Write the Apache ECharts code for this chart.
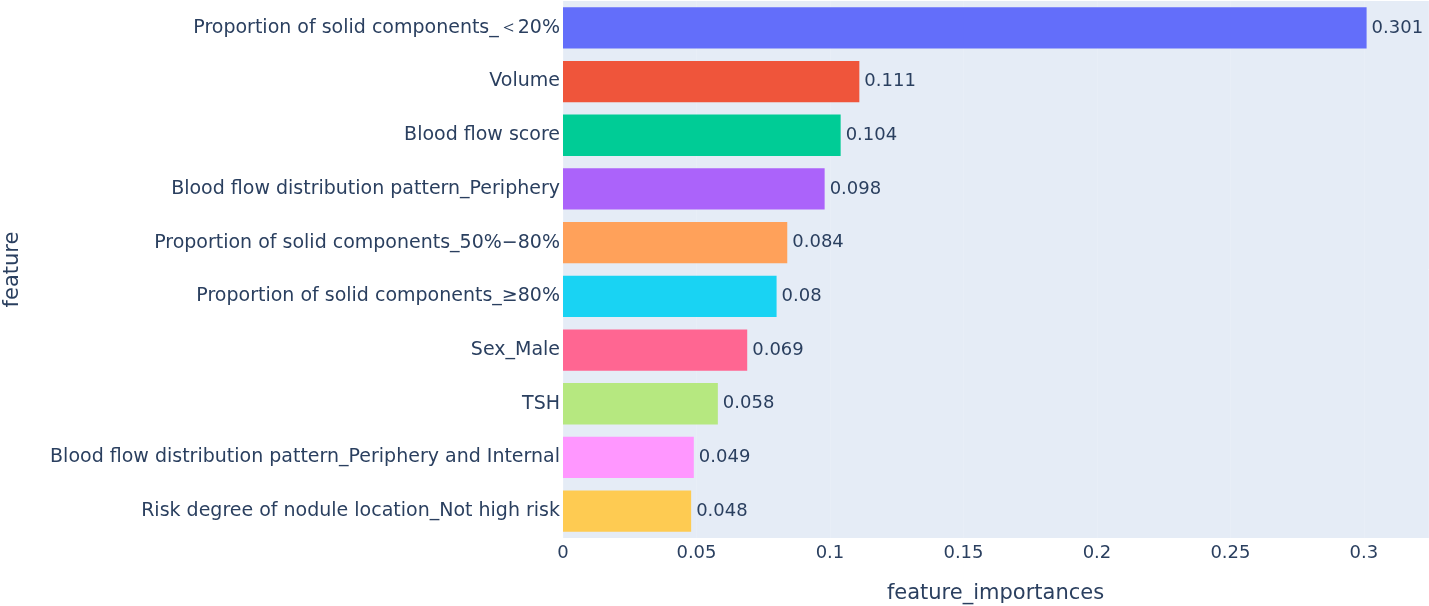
<!DOCTYPE html>
<html>
<head>
<meta charset="utf-8">
<script src="https://cdn.jsdelivr.net/npm/echarts@6/dist/echarts.min.js"></script>
<style>
  html, body { margin: 0; padding: 0; background: #fff; }
  #main { width: 1429px; height: 606px; }
</style>
</head>
<body>
<div id="main"></div>
<script>
// features, top to bottom as in the picture
const features = [
  'Proportion of solid components_\uFF1C20%',
  'Volume',
  'Blood flow score',
  'Blood flow distribution pattern_Periphery',
  'Proportion of solid components_50%\u221280%',
  'Proportion of solid components_\u226580%',
  'Sex_Male',
  'TSH',
  'Blood flow distribution pattern_Periphery and Internal',
  'Risk degree of nodule location_Not high risk'
];
const importances = [0.301, 0.111, 0.104, 0.098, 0.084, 0.08, 0.069, 0.058, 0.049, 0.048];
const barColors = ['#636EFA', '#EF553B', '#00CC96', '#AB63FA', '#FFA15A',
                   '#19D3F3', '#FF6692', '#B6E880', '#FF97FF', '#FECB52'];

const chart = echarts.init(document.getElementById('main'));
const font = 'DejaVu Sans';
const ink = '#2a3f5f';

chart.setOption({
  backgroundColor: '#fff',
  animation: false,
  grid: {
    left: 563, right: 1, top: 1, bottom: 68,
    outerBoundsMode: 'none',
    containLabel: false,
    show: true, backgroundColor: '#E5ECF6', borderWidth: 0
  },
  xAxis: {
    type: 'value',
    min: 0, max: 0.324, interval: 0.05,
    name: 'feature_importances',
    nameLocation: 'middle',
    nameGap: 45,
    nameTextStyle: { fontFamily: font, fontSize: 21, color: ink },
    axisLine: { show: false },
    axisTick: { show: false },
    splitLine: { show: true, lineStyle: { color: '#E8EEF7', width: 1 } },
    axisLabel: {
      fontFamily: font, fontSize: 18, color: ink, margin: 6,
      showMaxLabel: false,
      formatter: v => String(+v.toFixed(2))
    }
  },
  yAxis: {
    type: 'category',
    inverse: true,
    data: features,
    name: 'feature',
    nameLocation: 'middle',
    nameGap: 540,
    nameRotate: 90,
    nameTextStyle: { fontFamily: font, fontSize: 21, color: ink },
    axisLine: { show: false },
    axisTick: { show: false },
    axisLabel: { fontFamily: font, fontSize: 19, color: ink, margin: 3 }
  },
  series: [{
    type: 'bar',
    barCategoryGap: '23%',
    data: importances.map((v, i) => ({ value: v, itemStyle: { color: barColors[i] } })),
    label: {
      show: true, position: 'right', distance: 5,
      fontFamily: font, fontSize: 18, color: ink,
      formatter: p => String(p.value)
    }
  }]
});
</script>
</body>
</html>
